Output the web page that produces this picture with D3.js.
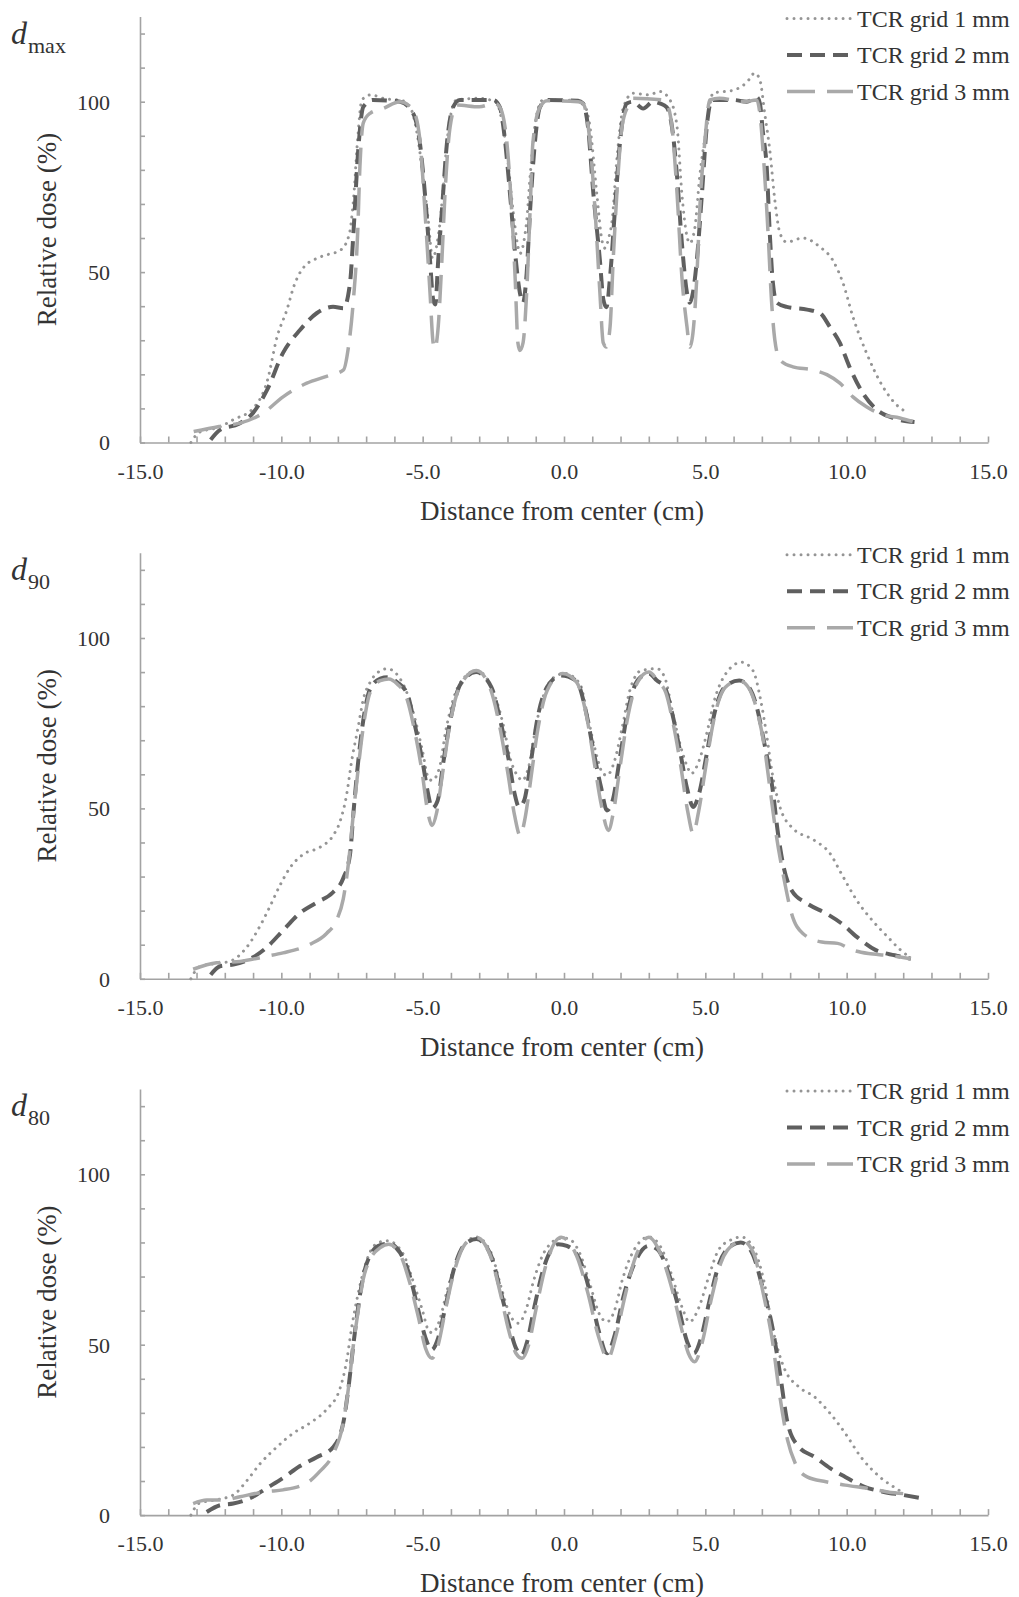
<!DOCTYPE html>
<html>
<head>
<meta charset="utf-8">
<script src="https://cdn.jsdelivr.net/npm/d3@7"></script>
<style>
  body { margin: 0; background: #fff; }
  svg { display: block; }
  text { font-family: "Liberation Serif", "DejaVu Serif", "Times New Roman", serif; fill: #333; }
</style>
</head>
<body>
<div id="chart"></div>
<script>
// dose profiles, [distance (cm), relative dose (%)]
const dmax1 = [[-13.2,0],[-12.9,3],[-12.2,4.5],[-11.7,6.7],[-11.0,10],[-10.5,18],[-10.15,31],[-9.8,39],[-9.55,46],[-9.2,51.5],[-8.6,54.5],[-7.9,56.5],[-7.6,61],[-7.45,71],[-7.3,89],[-7.15,100.5],[-6.85,102],[-6.3,100.8],[-5.8,100.5],[-5.45,98.5],[-5.2,90.8],[-5.0,79],[-4.8,65],[-4.65,54],[-4.5,58],[-4.38,65],[-4.28,74],[-4.14,88],[-3.97,97.5],[-3.8,100.5],[-3.0,101],[-2.4,99.8],[-2.2,94.6],[-2.02,85],[-1.8,68],[-1.63,57.5],[-1.55,55.5],[-1.4,60],[-1.32,65],[-1.2,78],[-0.96,96.5],[-0.74,100.5],[0,100.5],[0.67,99.5],[0.92,92.6],[1.16,73],[1.34,59.4],[1.45,57],[1.58,60],[1.7,65],[1.87,83],[2.09,98],[2.44,102.5],[3.0,102],[3.39,103],[3.75,100.5],[4.0,92.6],[4.17,73],[4.35,60.5],[4.45,58.5],[4.63,63],[4.8,78],[5.05,92.6],[5.27,102.5],[6.0,103.4],[6.47,105.7],[6.75,108.4],[6.93,106.4],[7.1,96.6],[7.28,85.8],[7.46,71],[7.64,61.4],[7.88,58.8],[8.45,60],[9.05,57.4],[9.5,53.6],[9.87,46.8],[10.22,36.9],[10.7,26.3],[11.28,16.4],[11.88,10.2],[12.1,9]];
const dmax2 = [[-12.5,0.8],[-12.17,3.7],[-11.5,5.5],[-11.0,8.7],[-10.5,15.5],[-9.94,26.3],[-9.34,33],[-8.74,38],[-8.17,39.8],[-7.8,39.4],[-7.57,46.8],[-7.45,61.4],[-7.28,85.8],[-7.1,98.5],[-6.76,100.5],[-5.8,100],[-5.34,96.6],[-5.1,88],[-4.92,73],[-4.74,53.5],[-4.63,42],[-4.55,40.5],[-4.45,53.5],[-4.32,68],[-4.14,88],[-3.92,98.5],[-3.68,100.5],[-2.5,100.5],[-2.27,98.4],[-2.1,89.6],[-1.91,73],[-1.73,55.6],[-1.56,43.9],[-1.45,41],[-1.32,49.8],[-1.2,68],[-1.03,88],[-0.85,98.4],[-0.6,100.5],[0.5,100.3],[0.67,99.5],[0.85,92.6],[1.04,73],[1.27,53.5],[1.39,42],[1.5,39.7],[1.63,48.6],[1.8,68],[1.98,88],[2.22,99.5],[2.44,100],[2.8,98],[3.15,100],[3.39,99.5],[3.63,98.4],[3.82,92.6],[4.0,78],[4.17,58.5],[4.35,43.9],[4.45,41],[4.56,43.9],[4.7,53.5],[4.88,73],[5.05,92.6],[5.23,100.5],[6.0,100.5],[6.47,100],[6.82,101.3],[6.93,99.5],[7.04,90.8],[7.17,81],[7.28,61.4],[7.39,46.8],[7.53,41],[7.88,39.8],[8.6,39],[9.05,38],[9.4,34],[9.76,29.2],[10.1,22.2],[10.57,14.5],[11.07,9.6],[11.64,7.2],[12.4,6]];
const dmax3 = [[-13.1,3.2],[-12.2,4.7],[-11.46,5.7],[-10.65,8.6],[-9.94,13.4],[-9.1,17.4],[-8.4,19.4],[-7.8,21.3],[-7.64,27.2],[-7.45,41.9],[-7.3,61.4],[-7.22,81],[-7.1,93.8],[-6.86,96.6],[-6.4,98],[-5.8,100],[-5.34,97.5],[-5.1,89],[-4.92,68],[-4.74,44],[-4.63,29.2],[-4.57,27.5],[-4.45,34],[-4.32,53.5],[-4.21,73],[-4.03,92.6],[-3.8,99],[-3.0,98.5],[-2.45,99.5],[-2.27,98.4],[-2.02,88],[-1.85,68],[-1.73,48.6],[-1.63,29.2],[-1.56,27],[-1.45,29.2],[-1.32,44],[-1.2,68],[-1.1,88],[-0.85,98.4],[-0.6,100.3],[0.5,100],[0.67,99.5],[0.92,88],[1.1,68],[1.27,44],[1.39,29.2],[1.5,28],[1.63,34],[1.74,53.5],[1.87,73],[2.05,92.6],[2.28,99],[2.44,101],[3.5,100.5],[3.63,99.5],[3.82,92.6],[4.0,73],[4.17,48.6],[4.35,34],[4.45,28],[4.56,32],[4.7,48.6],[4.8,68],[4.98,88],[5.16,100.5],[5.5,101],[6.35,100],[6.82,100.5],[6.95,95],[7.04,85.8],[7.22,61.4],[7.34,41.8],[7.46,30],[7.64,24.2],[8.1,22.2],[8.8,21.3],[9.3,19.9],[9.76,17.4],[10.22,13.4],[10.7,10.5],[11.28,8.1],[11.88,7.2],[12.4,6]];

const d90a = [[-13.2,0],[-12.9,3.5],[-12.3,4.5],[-11.8,5.2],[-11.23,9.2],[-10.76,15.4],[-10.4,21.3],[-10.05,27.4],[-9.7,32.5],[-9.23,36.5],[-8.63,38.6],[-8.17,42],[-7.93,46],[-7.69,54],[-7.51,64],[-7.28,74],[-7.1,82],[-6.86,87],[-6.6,89.8],[-6.25,91],[-5.7,86.6],[-5.35,78.7],[-5.01,67],[-4.81,59.2],[-4.67,58.2],[-4.4,62.1],[-4.2,72],[-3.93,81.7],[-3.52,88.5],[-3.1,90.5],[-2.57,85.6],[-2.16,74.9],[-1.88,64],[-1.61,59.2],[-1.48,58.2],[-1.2,64],[-1.0,73.8],[-0.66,84.6],[-0.25,89],[0.02,89.6],[0.56,86.6],[0.84,76.8],[1.11,67],[1.38,60.2],[1.52,59.7],[1.79,64],[2.06,73.8],[2.33,84.6],[2.74,90.5],[3.29,91],[3.56,88.5],[3.83,78.7],[4.1,69],[4.37,62.1],[4.5,60.2],[4.78,64],[5.05,72],[5.32,81.7],[5.73,89.6],[6.28,92.9],[6.68,90.5],[6.96,81.7],[7.16,72],[7.37,60.2],[7.64,50.4],[8.05,44.5],[8.86,40.6],[9.41,36.8],[9.81,30.9],[10.36,23],[10.9,17.2],[11.45,12.3],[11.9,8.5],[12.2,6.5]];
const d90b = [[-12.5,1.2],[-12.17,3.7],[-11.7,4.2],[-11.0,6.3],[-10.52,9.2],[-9.94,14.2],[-9.34,19.3],[-8.75,22.4],[-8.17,25.4],[-7.81,29.5],[-7.57,36.5],[-7.45,48.6],[-7.28,63.8],[-7.1,75.9],[-6.86,85],[-6.5,88.1],[-6.24,88.5],[-5.9,87],[-5.55,83.7],[-5.29,74.9],[-5.01,64],[-4.81,54.4],[-4.67,50],[-4.47,52.3],[-4.26,64],[-4.0,76.8],[-3.65,86.6],[-3.11,90],[-2.57,85.6],[-2.23,74.9],[-1.95,64],[-1.75,54.4],[-1.59,50.4],[-1.41,52.3],[-1.2,62.1],[-0.93,76.8],[-0.6,85.6],[-0.11,89],[0.43,87.5],[0.77,78.7],[1.04,67],[1.31,56.2],[1.52,49.4],[1.72,52.3],[1.98,65],[2.26,78.7],[2.6,87.5],[3.0,89.6],[3.29,87.5],[3.56,85.6],[3.83,77.8],[4.1,67],[4.37,55.3],[4.57,50.4],[4.78,54.4],[5.05,66],[5.32,77.8],[5.73,86],[6.2,87.5],[6.54,85.6],[6.82,79.7],[7.09,69],[7.37,56.2],[7.57,42.7],[7.77,32.8],[8.05,26],[8.6,22.1],[9.27,19.2],[9.81,16.3],[10.36,12.3],[11.03,8.4],[11.7,6.9],[12.27,5.9]];
const d90c = [[-13.12,2.8],[-12.29,4.7],[-11.46,5.1],[-10.52,6.6],[-9.94,7.6],[-8.99,10.1],[-8.4,13.3],[-8.04,17.3],[-7.81,23.4],[-7.63,33.6],[-7.45,48.6],[-7.28,61.7],[-7.1,73.9],[-6.86,84],[-6.5,87.5],[-6.2,88],[-5.9,86.5],[-5.55,82],[-5.29,73],[-5.01,60],[-4.84,50],[-4.67,45],[-4.5,49],[-4.3,60],[-4.05,74],[-3.7,85.5],[-3.1,90.5],[-2.6,85],[-2.25,73],[-1.98,60],[-1.75,48],[-1.55,42],[-1.38,47],[-1.2,57],[-0.95,72],[-0.6,84.5],[-0.05,89.6],[0.45,87],[0.8,77],[1.06,64],[1.32,51],[1.57,43.5],[1.75,49],[1.98,62],[2.26,77],[2.6,87],[3.0,90],[3.35,87],[3.6,84],[3.86,75],[4.12,63],[4.38,49],[4.57,42.6],[4.76,49],[5.03,63],[5.3,76],[5.7,85.5],[6.2,87.5],[6.54,85.3],[6.82,79],[7.09,68],[7.3,55],[7.5,42.7],[7.77,29.9],[8.05,19.2],[8.45,13.3],[9.12,10.8],[9.68,10.4],[10.22,8.4],[10.77,7.4],[11.45,6.9],[12.27,5.9]];

const d80a = [[-13.2,0],[-12.9,3.5],[-12.3,4.5],[-11.7,5.9],[-11.23,10],[-10.76,15],[-10.17,19.9],[-9.58,24],[-8.99,27],[-8.4,31],[-7.93,37],[-7.69,45.2],[-7.51,55.1],[-7.33,63.1],[-7.1,71.3],[-6.86,77.2],[-6.6,79.8],[-6.25,80.5],[-5.7,76.8],[-5.35,68.9],[-5.01,60.1],[-4.78,54],[-4.65,53.5],[-4.4,57.2],[-4.13,66],[-3.79,74.8],[-3.38,80.6],[-3.11,81.6],[-2.57,76.8],[-2.23,67],[-1.88,58.2],[-1.61,56.3],[-1.35,60.1],[-1.07,68.9],[-0.66,77.7],[-0.11,81.2],[0.1,81.2],[0.56,76.8],[0.91,68],[1.24,59.2],[1.52,56.7],[1.79,60.1],[2.06,68.9],[2.47,77.7],[3.0,81.6],[3.42,78.7],[3.83,69.9],[4.17,61.1],[4.44,56.7],[4.78,61.1],[5.12,69.9],[5.46,77.7],[5.87,80.6],[6.28,81.6],[6.68,78.7],[7.09,68],[7.37,55.2],[7.77,43.5],[8.31,37.6],[8.86,34.7],[9.41,29.9],[9.95,24],[10.5,17.1],[11.17,11.2],[11.85,7.3],[12.0,6.5]];
const d80b = [[-12.64,0.9],[-12.17,2.9],[-11.7,3.4],[-11.0,5.4],[-10.52,7.9],[-9.94,10.9],[-9.34,14.4],[-8.75,17],[-8.17,19.9],[-7.81,27],[-7.63,37],[-7.45,50.1],[-7.28,61.1],[-7.1,70.2],[-6.86,76.2],[-6.5,79.2],[-6.2,79.6],[-5.8,77],[-5.45,70],[-5.15,60],[-4.9,52],[-4.68,48.5],[-4.45,52],[-4.2,61],[-3.9,72],[-3.5,79.5],[-3.1,81],[-2.6,76.5],[-2.25,66],[-1.95,56],[-1.7,49],[-1.5,47],[-1.3,51],[-1.05,61],[-0.7,73],[-0.2,79.5],[0.1,79],[0.55,75],[0.9,66],[1.2,55],[1.52,47.5],[1.8,53],[2.1,64],[2.5,74],[3.0,79],[3.3,78],[3.7,71],[4.05,61],[4.35,51],[4.6,47.5],[4.85,52],[5.15,63],[5.5,74],[5.9,79],[6.25,80],[6.65,77],[7.05,66],[7.37,55.2],[7.64,41.6],[7.91,27],[8.31,20],[8.86,17.1],[9.41,13.8],[9.95,11.2],[10.63,8.3],[11.32,6.8],[12.0,5.9],[12.6,5]];
const d80c = [[-13.12,3.4],[-12.64,4.4],[-12.05,4.4],[-11.46,5.4],[-10.52,6.9],[-9.94,7.4],[-9.1,9.4],[-8.63,12.9],[-8.17,17.9],[-7.81,27],[-7.63,37],[-7.45,50],[-7.28,60],[-7.1,69.3],[-6.86,75],[-6.5,78.5],[-6.2,79.5],[-5.8,76.5],[-5.45,68],[-5.15,58],[-4.9,49],[-4.67,46],[-4.45,50],[-4.2,60],[-3.9,71],[-3.5,79.5],[-3.1,81.5],[-2.6,76],[-2.25,65],[-1.95,54],[-1.7,47.5],[-1.48,46],[-1.25,50],[-1.0,60],[-0.65,73],[-0.1,81.5],[0.45,76],[0.85,65],[1.2,53],[1.55,46],[1.85,53],[2.15,64],[2.5,75],[3.0,81.5],[3.4,77],[3.8,67],[4.15,55],[4.4,47.5],[4.62,45],[4.9,51],[5.2,63],[5.55,74],[6.0,79.5],[6.3,80.5],[6.7,77],[7.05,65],[7.37,51.3],[7.64,34.7],[7.91,22],[8.18,15.2],[8.6,11.2],[9.27,9.8],[9.95,8.8],[10.77,7.8],[11.45,6.8],[12.0,6.3]];

const seriesNames = ['TCR grid 1 mm', 'TCR grid 2 mm', 'TCR grid 3 mm'];
const panelSubs = ['max', '90', '80'];
const panelData = [[dmax1, dmax2, dmax3], [d90a, d90b, d90c], [d80a, d80b, d80c]];
const xTicks = [-15, -10, -5, 0, 5, 10, 15];
const yTicks = [0, 50, 100];

// line looks, one per series
const styles = [
    { color: '#959595', width: 3, dash: '0.01 7', cap: 'round' },
    { color: '#5f5f5f', width: 4, dash: '15 8', cap: 'butt' },
    { color: '#a9a9a9', width: 3.5, dash: '28 12', cap: 'butt' }
];

const margin = { top: 16.5, left: 140 },
    plotW = 848,
    plotH = 426,
    step = 536.3;

const serif = '"Liberation Serif", "DejaVu Serif", serif';

const svg = d3.select('#chart')
    .append('svg')
    .attr('width', 1019)
    .attr('height', 1597);

const x = d3.scaleLinear().domain([-15, 15]).range([0, plotW]);
const y = d3.scaleLinear().domain([0, 125]).range([plotH, 0]);

const line = d3.line()
    .x(d => x(d[0]))
    .y(d => y(d[1]))
    .curve(d3.curveMonotoneX);

const axisColor = '#a3a3a3';

panelData.forEach((series, i) => {
    const g = svg.append('g')
        .attr('transform', `translate(${margin.left}, ${margin.top + i * step})`);

    // x axis: minor ticks pointing up, labels below
    const xa = g.append('g')
        .attr('transform', `translate(0, ${plotH})`)
        .call(d3.axisTop(x).tickValues(d3.range(-15, 16, 1)).tickSize(6).tickSizeOuter(0).tickFormat(''));
    xa.selectAll('path, line').attr('stroke', axisColor).attr('stroke-width', 1.6);

    const xl = g.append('g')
        .attr('transform', `translate(0, ${plotH})`)
        .call(d3.axisBottom(x).tickValues(xTicks).tickSize(0));
    xl.select('.domain').remove();
    xl.selectAll('text')
        .attr('y', 36).attr('dy', null)
        .attr('font-size', 22)
        .attr('font-family', serif)
        .attr('fill', '#333')
        .text(d => d.toFixed(1));

    // y axis: minor ticks pointing right, labels left
    const ya = g.append('g')
        .call(d3.axisRight(y).tickValues(d3.range(0, 121, 10)).tickSize(5).tickSizeOuter(0).tickFormat(''));
    ya.selectAll('path, line').attr('stroke', axisColor).attr('stroke-width', 1.6);

    const yl = g.append('g')
        .call(d3.axisLeft(y).tickValues(yTicks).tickSize(0).tickPadding(30));
    yl.select('.domain').remove();
    yl.selectAll('text')
        .attr('dy', '0.34em')
        .attr('font-size', 22)
        .attr('font-family', serif)
        .attr('fill', '#333');

    // axis titles
    g.append('text')
        .attr('x', plotW / 2 - 2)
        .attr('y', plotH + 77)
        .attr('text-anchor', 'middle')
        .attr('font-size', 27)
        .text('Distance from center (cm)');

    g.append('text')
        .attr('transform', `translate(${47 - margin.left}, ${plotH / 2}) rotate(-90)`)
        .attr('dy', '0.35em')
        .attr('text-anchor', 'middle')
        .attr('font-size', 27)
        .text('Relative dose (%)');

    // panel label d_max / d_90 / d_80
    g.append('text')
        .attr('x', 11 - margin.left)
        .attr('y', 27)
        .attr('font-size', 32)
        .attr('font-style', 'italic')
        .text('d');
    g.append('text')
        .attr('x', 28 - margin.left)
        .attr('y', 36)
        .attr('font-size', 22)
        .text(panelSubs[i]);

    // profiles
    series.forEach((s, j) => {
        g.append('path')
            .datum(s)
            .attr('d', line)
            .attr('fill', 'none')
            .attr('stroke', styles[j].color)
            .attr('stroke-width', styles[j].width)
            .attr('stroke-dasharray', styles[j].dash)
            .attr('stroke-linecap', styles[j].cap)
            .attr('stroke-linejoin', 'round');
    });

    // legend
    const leg = g.append('g')
        .attr('transform', `translate(${787 - margin.left}, 0)`);
    seriesNames.forEach((name, j) => {
        const ly = 2 + j * 36.5;
        leg.append('line')
            .attr('x1', 0).attr('x2', 66)
            .attr('y1', ly).attr('y2', ly)
            .attr('stroke', styles[j].color)
            .attr('stroke-width', styles[j].width)
            .attr('stroke-dasharray', styles[j].dash)
            .attr('stroke-linecap', styles[j].cap);
        leg.append('text')
            .attr('x', 70)
            .attr('y', ly + 8)
            .attr('font-size', 24)
            .text(name);
    });
});
</script>
</body>
</html>
